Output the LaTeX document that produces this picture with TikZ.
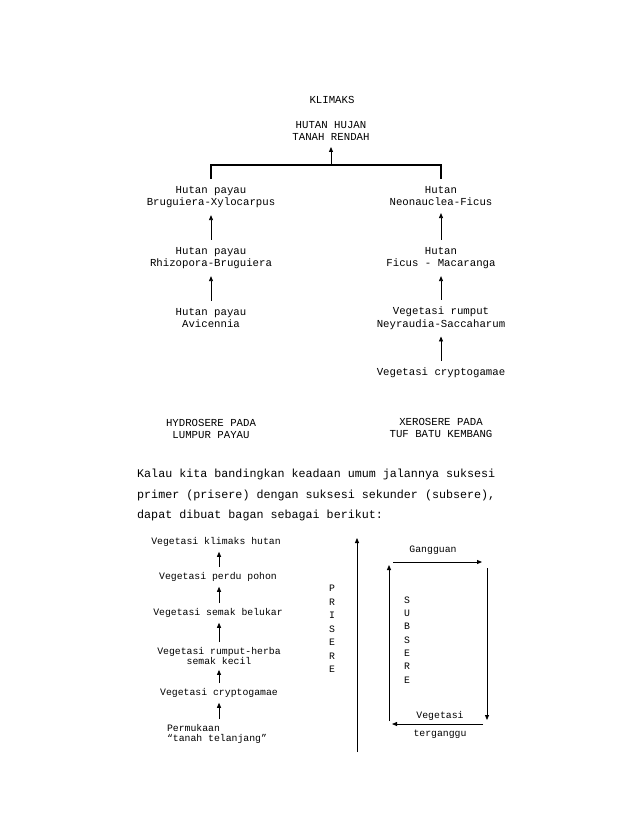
\documentclass[tikz,border=0pt]{standalone}
\usepackage{fontspec}
\usepackage{amsmath}
\usepackage{tikz}
\usetikzlibrary{arrows.meta}
\newfontfamily\cour{Liberation Mono}
\tikzset{
  big/.style={font=\cour\fontsize{10.7}{12.5}\selectfont, align=center, inner sep=2pt},
  small/.style={font=\cour\fontsize{9.8}{10.2}\selectfont, align=center, inner sep=2pt},
  arr/.style={-{Triangle[length=5pt,width=4pt]}, line width=0.8pt, shorten >=5pt, shorten <=5pt},
  thin arr/.style={-{Triangle[length=5pt,width=4pt]}, line width=0.8pt}
}
\begin{document}
\begin{tikzpicture}[x=1pt,y=-1pt]
\useasboundingbox (0,0) rectangle (638,826);
%top chart
\node (klimaks) [big] at (332,100) {KLIMAKS};
\node (hhtr) [big] at (331,131) {HUTAN HUJAN\\TANAH RENDAH};
\node (hp1) [big] at (211,197) {Hutan payau\\Bruguiera-Xylocarpus};
\node (hp2) [big] at (211,258) {Hutan payau\\Rhizopora-Bruguiera};
\node (hp3) [big] at (211,318) {Hutan payau\\Avicennia};
\node (hn1) [big] at (441,196) {Hutan\\Neonauclea-Ficus};
\node (hn2) [big] at (441,258) {Hutan\\Ficus - Macaranga};
\node (vr) [big] at (441,318) {Vegetasi rumput\\Neyraudia-Saccaharum};
\node (vc) [big] at (441,373) {Vegetasi cryptogamae};
\node (hydro) [big] at (211,429) {HYDROSERE PADA\\LUMPUR PAYAU};
\node (xero) [big] at (441,428) {XEROSERE PADA\\TUF BATU KEMBANG};
\coordinate (bl) at (211,179);
\coordinate (bm) at (331,165);
\coordinate (br) at (441,179);
\draw[line width=1.1pt] (bl) |- (bm) -| (br);
\path
(bm) edge [thin arr, shorten >=4pt] (hhtr)
(hp2) edge [arr] (hp1)
(hp3) edge [arr] (hp2)
(hn2) edge [arr] (hn1)
(vr) edge [arr] (hn2)
(vc) edge [arr] (vr);
%paragraph
\node (para) [font=\cour\fontsize{11.7}{20.5}\selectfont, align=left, anchor=west, inner sep=0pt] at (137,495)
  {Kalau kita bandingkan keadaan umum jalannya suksesi\\primer (prisere) dengan suksesi sekunder (subsere),\\dapat dibuat bagan sebagai berikut:};
%bottom chart
\coordinate (ax) at (219,0);
\node (vk) [small] at (216,542) {Vegetasi klimaks hutan};
\node (vp) [small] at (218,577) {Vegetasi perdu pohon};
\node (vs) [small] at (218,613) {Vegetasi semak belukar};
\node (vrh) [small] at (219,656) {Vegetasi rumput-herba\\semak kecil};
\node (vcr) [small] at (219,693) {Vegetasi cryptogamae};
\node (perm) [small, align=left] at (217,734) {Permukaan\\“tanah telanjang”};
\path
(vp.north -| ax) edge [arr, shorten <=3pt, shorten >=3pt] (vk.south -| ax)
(vs.north -| ax) edge [arr, shorten <=3pt, shorten >=3pt] (vp.south -| ax)
(vrh.north -| ax) edge [arr, shorten <=3pt, shorten >=3pt] (vs.south -| ax)
(vcr.north -| ax) edge [arr, shorten <=3pt, shorten >=3pt] (vrh.south -| ax)
(perm.north -| ax) edge [arr, shorten <=3pt, shorten >=3pt] (vcr.south -| ax);
\node (pri) [small, font=\cour\fontsize{9.8}{13.5}\selectfont] at (332,629) {P\\R\\I\\S\\E\\R\\E};
\coordinate (pbot) at (357,752);
\coordinate (ptop) at (357,538);
\draw[thin arr] (pbot) -- (ptop);
\node (sub) [small, font=\cour\fontsize{9.8}{13.3}\selectfont] at (407,640) {S\\U\\B\\S\\E\\R\\E};
\coordinate (sbl) at (389,721);
\coordinate (stl) at (389,565);
\coordinate (stl2) at (393,562);
\coordinate (str) at (482,562);
\coordinate (str2) at (487,568);
\coordinate (sbr) at (487,720);
\coordinate (sbr2) at (483,724);
\coordinate (sbl2) at (392,724);
\draw[thin arr] (sbl) -- (stl);
\draw[thin arr] (stl2) -- (str);
\draw[thin arr] (str2) -- (sbr);
\draw[thin arr] (sbr2) -- (sbl2);
\node (gang) [small] at (433,550) {Gangguan};
\node (veg) [small] at (440,716) {Vegetasi};
\node (terg) [small] at (440,734) {terganggu};
\end{tikzpicture}
\end{document}
